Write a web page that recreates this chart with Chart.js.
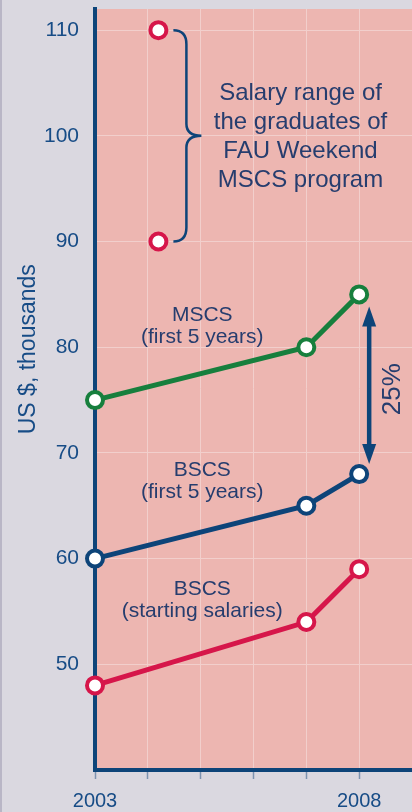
<!DOCTYPE html>
<html>
<head>
<meta charset="utf-8">
<script src="https://cdn.jsdelivr.net/npm/chart.js@4.4.1/dist/chart.umd.min.js"></script>
<style>
  html, body { margin: 0; padding: 0; background: #dad8e0; }
  #wrap { width: 412px; height: 812px; }
</style>
</head>
<body>
<div id="wrap"><canvas id="salaryChart" width="412" height="812"></canvas></div>
<script>
// Data (US $, thousands)
var years = [2003, 2007, 2008];
var mscsValues = [75, 80, 85];
var bscsValues = [60, 65, 68];
var bscsStartValues = [48, 54, 59];
var rangeYear = 2004.2;
var rangeValues = [110, 90];
var xTicks = [2003, 2004, 2005, 2006, 2007, 2008];
var xLabels = [2003, 2008];
var yTicks = [50, 60, 70, 80, 90, 100, 110];

var FONT = "'Liberation Sans', Arial, sans-serif";
var NAVY = '#0d4479';
var TEXT = '#263d6e';

function lineSet(values, color, xs) {
    return {
        data: values.map(function (v, i) { return { x: xs[i], y: v }; }),
        borderColor: color,
        borderWidth: 5,
        pointRadius: 8,
        pointBorderWidth: 4,
        pointBackgroundColor: '#ffffff',
        pointBorderColor: color,
        tension: 0,
        clip: false
    };
}

// text block centred on a data position, baseline of first line at yv
function drawLines(c, xs, ys, lines, xv, yv, size, gap) {
    c.font = size + 'px ' + FONT;
    c.fillStyle = TEXT;
    c.textAlign = 'center';
    c.textBaseline = 'alphabetic';
    var x = xs.getPixelForValue(xv), y = ys.getPixelForValue(yv);
    lines.forEach(function (t, i) { c.fillText(t, x, y + i * gap); });
}

var annotations = {
    id: 'annotations',
    beforeDraw: function (chart) {
        var a = chart.chartArea, c = chart.ctx;
        c.save();
        c.fillStyle = '#edb6b1';
        c.fillRect(a.left, a.top, a.right - a.left, a.bottom - a.top);
        c.fillStyle = '#b9b6c6';
        c.fillRect(0, 0, 2, chart.height);
        c.restore();
    },
    afterDatasetsDraw: function (chart) {
        var c = chart.ctx, xs = chart.scales.x, ys = chart.scales.y;
        c.save();

        // brace beside the salary range
        var xr = xs.getPixelForValue(rangeYear);
        var yTop = ys.getPixelForValue(rangeValues[0]);
        var yBot = ys.getPixelForValue(rangeValues[1]);
        var yMid = (yTop + yBot) / 2;
        var x0 = xr + 15, xv = xr + 28, xt = xr + 43;
        c.strokeStyle = NAVY;
        c.lineWidth = 2.5;
        c.beginPath();
        c.moveTo(x0, yTop);
        c.quadraticCurveTo(xv, yTop, xv, yTop + 14);
        c.lineTo(xv, yMid - 12);
        c.quadraticCurveTo(xv, yMid, xt, yMid);
        c.quadraticCurveTo(xv, yMid, xv, yMid + 12);
        c.lineTo(xv, yBot - 14);
        c.quadraticCurveTo(xv, yBot, x0, yBot);
        c.stroke();

        drawLines(c, xs, ys, ['Salary range of', 'the graduates of', 'FAU Weekend', 'MSCS program'], 2006.89, 103.4, 24, 29);
        drawLines(c, xs, ys, ['MSCS', '(first 5 years)'], 2005.03, 82.5, 21, 22);
        drawLines(c, xs, ys, ['BSCS', '(first 5 years)'], 2005.03, 67.8, 21, 22);
        drawLines(c, xs, ys, ['BSCS', '(starting salaries)'], 2005.03, 56.6, 21, 22);

        // double arrow between MSCS and BSCS in 2008
        var ax = xs.getPixelForValue(2008) + 10;
        var top = ys.getPixelForValue(mscsValues[2]) + 12;
        var bot = ys.getPixelForValue(bscsValues[2]) - 10;
        c.lineWidth = 4.5;
        c.beginPath();
        c.moveTo(ax, top + 15);
        c.lineTo(ax, bot - 15);
        c.stroke();
        c.fillStyle = NAVY;
        c.beginPath();
        c.moveTo(ax, top); c.lineTo(ax - 7, top + 20); c.lineTo(ax + 7, top + 20); c.closePath();
        c.fill();
        c.beginPath();
        c.moveTo(ax, bot); c.lineTo(ax - 7, bot - 20); c.lineTo(ax + 7, bot - 20); c.closePath();
        c.fill();

        c.save();
        c.translate(ax + 24, (top + bot) / 2 + 4);
        c.rotate(-Math.PI / 2);
        c.font = '26px ' + FONT;
        c.fillStyle = TEXT;
        c.textAlign = 'center';
        c.textBaseline = 'middle';
        c.fillText('25%', 0, 0);
        c.restore();

        // y axis title
        c.translate(29, ys.getPixelForValue(80) + 2);
        c.rotate(-Math.PI / 2);
        c.font = '23px ' + FONT;
        c.fillStyle = '#174c86';
        c.textAlign = 'center';
        c.textBaseline = 'middle';
        c.fillText('US $, thousands', 0, 0);
        c.restore();
    }
};

var ctx = document.getElementById('salaryChart').getContext('2d');
var salaryChart = new Chart(ctx, {
    type: 'line',
    data: {
        datasets: [
            lineSet(mscsValues, '#177f3d', years),
            lineSet(bscsValues, NAVY, years),
            lineSet(bscsStartValues, '#d6164a', years),
            Object.assign(lineSet(rangeValues, '#d6164a', [rangeYear, rangeYear]), { showLine: false })
        ]
    },
    options: {
        responsive: false,
        animation: false,
        devicePixelRatio: 1,
        layout: { autoPadding: false, padding: { top: 9, right: 0, bottom: 0, left: 0 } },
        plugins: { legend: { display: false }, tooltip: { enabled: false } },
        scales: {
            x: {
                type: 'linear', min: 2003, max: 2009,
                afterBuildTicks: function (s) { s.ticks = xTicks.map(function (v) { return { value: v }; }); },
                afterFit: function (s) { s.height = 42; s.paddingLeft = 0; s.paddingRight = 0; },
                grid: { color: '#f2cfcc', lineWidth: 1, drawTicks: true, tickLength: 9, tickColor: '#7c93b0', tickWidth: 1.5 },
                border: { color: NAVY, width: 4 },
                ticks: {
                    padding: 10, autoSkip: false, maxRotation: 0, color: '#174c86',
                    font: { family: FONT, size: 20 },
                    callback: function (v) { return xLabels.indexOf(v) >= 0 ? String(v) : ''; }
                }
            },
            y: {
                type: 'linear', min: 40, max: 112,
                afterBuildTicks: function (s) { s.ticks = yTicks.map(function (v) { return { value: v }; }); },
                afterFit: function (s) { s.width = 95; s.paddingTop = 0; s.paddingBottom = 0; },
                grid: { color: '#f2cfcc', lineWidth: 1, drawTicks: false },
                border: { color: NAVY, width: 4 },
                ticks: { padding: 16, color: '#174c86', font: { family: FONT, size: 21 } }
            }
        }
    },
    plugins: [annotations]
});
</script>
</body>
</html>
